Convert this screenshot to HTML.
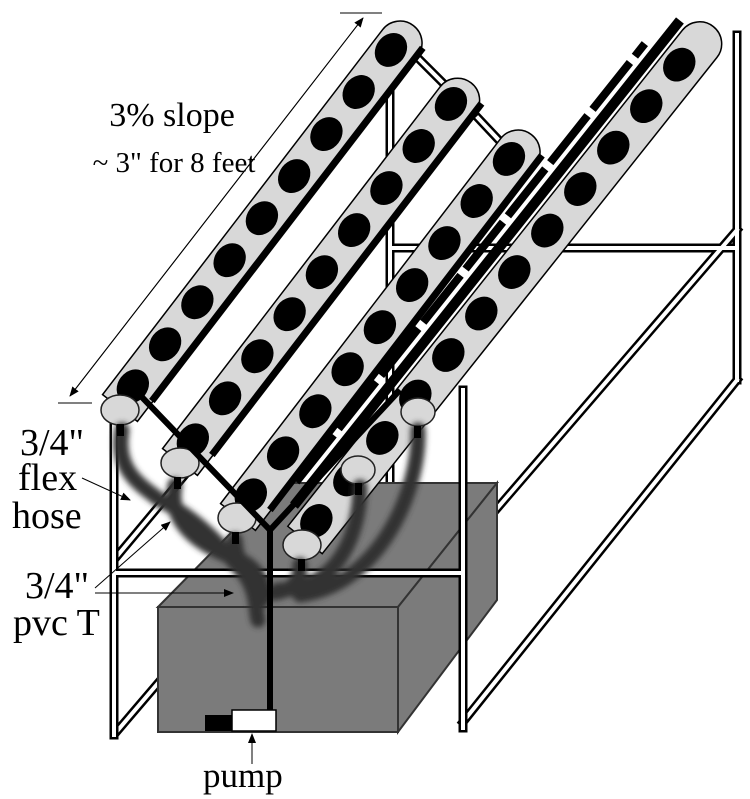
<!DOCTYPE html>
<html><head><meta charset="utf-8"><style>
html,body{margin:0;padding:0;background:#fff;}
svg{display:block;}
text{font-family:"Liberation Serif",serif;fill:#000;}
</style></head><body>
<svg width="750" height="799" viewBox="0 0 750 799" xmlns="http://www.w3.org/2000/svg">
<defs>
<filter id="bl" x="-20%" y="-20%" width="140%" height="140%"><feGaussianBlur stdDeviation="3"/></filter>
<marker id="ar" markerWidth="10" markerHeight="8" refX="9" refY="4" orient="auto" markerUnits="userSpaceOnUse"><path d="M0,0 L10,4 L0,8 Z" fill="#000"/></marker>
</defs>
<rect width="750" height="799" fill="#fff"/>

<g stroke-linecap="square">
<g stroke="#000" stroke-width="9" fill="none">
<line x1="390" y1="95" x2="390" y2="590"/>
<line x1="737" y1="35" x2="737" y2="380"/>
<line x1="392" y1="248" x2="737" y2="248"/>
<line x1="737" y1="230" x2="463" y2="548"/>
<line x1="737" y1="380" x2="463" y2="722"/>
<line x1="420" y1="60" x2="455" y2="95"/>
<line x1="478" y1="118" x2="510" y2="152"/>
<line x1="118" y1="555" x2="235" y2="415"/>
<line x1="118" y1="730" x2="165" y2="675"/>
</g>
<g stroke="#fff" stroke-width="4" fill="none">
<line x1="390" y1="95" x2="390" y2="590"/>
<line x1="737" y1="35" x2="737" y2="380"/>
<line x1="392" y1="248" x2="737" y2="248"/>
<line x1="737" y1="230" x2="463" y2="548"/>
<line x1="737" y1="380" x2="463" y2="722"/>
<line x1="420" y1="60" x2="455" y2="95"/>
<line x1="478" y1="118" x2="510" y2="152"/>
<line x1="118" y1="555" x2="235" y2="415"/>
<line x1="118" y1="730" x2="165" y2="675"/>
</g>
</g>

<g stroke="#333" stroke-width="2" fill="#7b7b7b">
<polygon points="158,607 280,483 497,483 398,607"/>
<polygon points="398,607 497,483 497,600 398,732"/>
<rect x="158" y="607" width="240" height="125"/>
</g>

<g stroke-linecap="square">
<g stroke="#000" stroke-width="9" fill="none">
<line x1="114" y1="405" x2="114" y2="735"/>
<line x1="463" y1="390" x2="463" y2="728"/>
<line x1="114" y1="573" x2="463" y2="573"/>
</g>
<g stroke="#fff" stroke-width="4" fill="none">
<line x1="114" y1="405" x2="114" y2="735"/>
<line x1="463" y1="390" x2="463" y2="728"/>
<line x1="114" y1="573" x2="463" y2="573"/>
</g>
</g>

<g transform="translate(120,408) rotate(-52.5)">
<path d="M0,-22 H460 A22,22 0 0 1 460,22 H0 Z" fill="#d8d8d8" stroke="#000" stroke-width="1.5"/>
<g fill="#000"><ellipse cx="25" cy="-3" rx="18" ry="15"/><ellipse cx="78" cy="-3" rx="18" ry="15"/><ellipse cx="131" cy="-3" rx="18" ry="15"/><ellipse cx="184" cy="-3" rx="18" ry="15"/><ellipse cx="237" cy="-3" rx="18" ry="15"/><ellipse cx="290" cy="-3" rx="18" ry="15"/><ellipse cx="343" cy="-3" rx="18" ry="15"/><ellipse cx="396" cy="-3" rx="18" ry="15"/><ellipse cx="449" cy="-3" rx="18" ry="15"/></g>
<line x1="25" y1="21" x2="470" y2="21" stroke="#000" stroke-width="7"/>
</g>
<g transform="translate(180,462) rotate(-52.5)">
<path d="M0,-22 H456 A22,22 0 0 1 456,22 H0 Z" fill="#d8d8d8" stroke="#000" stroke-width="1.5"/>
<g fill="#000"><ellipse cx="25" cy="-3" rx="18" ry="15"/><ellipse cx="78" cy="-3" rx="18" ry="15"/><ellipse cx="131" cy="-3" rx="18" ry="15"/><ellipse cx="184" cy="-3" rx="18" ry="15"/><ellipse cx="237" cy="-3" rx="18" ry="15"/><ellipse cx="290" cy="-3" rx="18" ry="15"/><ellipse cx="343" cy="-3" rx="18" ry="15"/><ellipse cx="396" cy="-3" rx="18" ry="15"/><ellipse cx="449" cy="-3" rx="18" ry="15"/></g>
<line x1="25" y1="21" x2="468" y2="21" stroke="#000" stroke-width="7"/>
</g>
<g transform="translate(238,517) rotate(-52.5)">
<path d="M0,-22 H460 A22,22 0 0 1 460,22 H0 Z" fill="#d8d8d8" stroke="#000" stroke-width="1.5"/>
<g fill="#000"><ellipse cx="25" cy="-3" rx="18" ry="15"/><ellipse cx="78" cy="-3" rx="18" ry="15"/><ellipse cx="131" cy="-3" rx="18" ry="15"/><ellipse cx="184" cy="-3" rx="18" ry="15"/><ellipse cx="237" cy="-3" rx="18" ry="15"/><ellipse cx="290" cy="-3" rx="18" ry="15"/><ellipse cx="343" cy="-3" rx="18" ry="15"/><ellipse cx="396" cy="-3" rx="18" ry="15"/><ellipse cx="449" cy="-3" rx="18" ry="15"/></g>
<line x1="25" y1="21" x2="472" y2="21" stroke="#000" stroke-width="7"/>
</g>
<g transform="translate(305,540) rotate(-51.5)">
<line x1="20" y1="-30" x2="640" y2="-30" stroke="#000" stroke-width="10"/>
<line x1="40" y1="-43" x2="600" y2="-43" stroke="#000" stroke-width="8" stroke-dasharray="60,8"/>
<path d="M0,-22 H634 A22,22 0 0 1 634,22 H0 Z" fill="#d8d8d8" stroke="#000" stroke-width="1.5"/>
<g fill="#000"><ellipse cx="22" cy="-3" rx="18" ry="15"/><ellipse cx="75" cy="-3" rx="18" ry="15"/><ellipse cx="128" cy="-3" rx="18" ry="15"/><ellipse cx="181" cy="-3" rx="18" ry="15"/><ellipse cx="234" cy="-3" rx="18" ry="15"/><ellipse cx="287" cy="-3" rx="18" ry="15"/><ellipse cx="340" cy="-3" rx="18" ry="15"/><ellipse cx="393" cy="-3" rx="18" ry="15"/><ellipse cx="446" cy="-3" rx="18" ry="15"/><ellipse cx="499" cy="-3" rx="18" ry="15"/><ellipse cx="552" cy="-3" rx="18" ry="15"/><ellipse cx="605" cy="-3" rx="18" ry="15"/></g>
</g>
<g fill="#d8d8d8" stroke="#222" stroke-width="1.5">
<ellipse cx="120" cy="410" rx="19" ry="15"/>
<ellipse cx="180" cy="463" rx="19" ry="15"/>
<ellipse cx="237" cy="518" rx="19" ry="15"/>
<ellipse cx="302" cy="545" rx="19" ry="15"/>
<ellipse cx="358" cy="470" rx="17" ry="14"/>
<ellipse cx="418" cy="412" rx="17" ry="14"/>
</g>

<g fill="none" stroke="#333" stroke-width="15" stroke-linecap="round" filter="url(#bl)">
<path d="M122,430 C115,470 140,485 160,500 C200,520 220,545 245,575 C258,595 255,610 258,620"/>
<path d="M175,485 C170,510 180,540 240,560 C260,570 265,585 262,600"/>
<path d="M235,540 C236,560 245,575 262,585"/>
<path d="M300,565 C300,585 290,590 275,593"/>
<path d="M360,487 C360,530 340,590 278,590"/>
<path d="M418,430 C420,490 380,585 300,595"/>
</g>
<g fill="#000">
<rect x="117" y="424" width="7" height="12"/>
<rect x="174" y="477" width="7" height="12"/>
<rect x="232" y="532" width="7" height="12"/>
<rect x="298" y="559" width="7" height="12"/>
<rect x="355" y="483" width="7" height="12"/>
<rect x="414" y="426" width="7" height="12"/>
</g>

<g stroke="#000" stroke-width="6" fill="none">
<polyline points="145,385 137,392 270,530 400,390"/>
<line x1="270" y1="530" x2="270" y2="712"/>
</g>

<rect x="205" y="715" width="28" height="16" fill="#000"/>
<rect x="232" y="710" width="44" height="21" fill="#fff" stroke="#000" stroke-width="1.5"/>

<g stroke="#000" stroke-width="1">
<line x1="58" y1="403" x2="92" y2="403"/>
<line x1="340" y1="13" x2="382" y2="13"/>
<line x1="70" y1="396" x2="363" y2="18" marker-end="url(#ar)"/>
<line x1="363" y1="18" x2="70" y2="396" marker-end="url(#ar)"/>
<line x1="82" y1="478" x2="130" y2="500" marker-end="url(#ar)"/>
<line x1="95" y1="588" x2="170" y2="522" marker-end="url(#ar)"/>
<line x1="95" y1="593" x2="233" y2="593" marker-end="url(#ar)"/>
<line x1="252" y1="764" x2="252" y2="734" marker-end="url(#ar)"/>
</g>

<text x="172" y="126" text-anchor="middle" font-size="34">3% slope</text>
<text x="174" y="172" text-anchor="middle" font-size="29">~ 3" for 8 feet</text>
<g font-size="38">
<text x="20" y="455">3/4"</text>
<text x="18" y="490">flex</text>
<text x="12" y="528">hose</text>
<text x="25" y="598">3/4"</text>
<text x="13" y="635">pvc T</text>
</g>
<text x="203" y="787" font-size="35">pump</text>
</svg>
</body></html>
